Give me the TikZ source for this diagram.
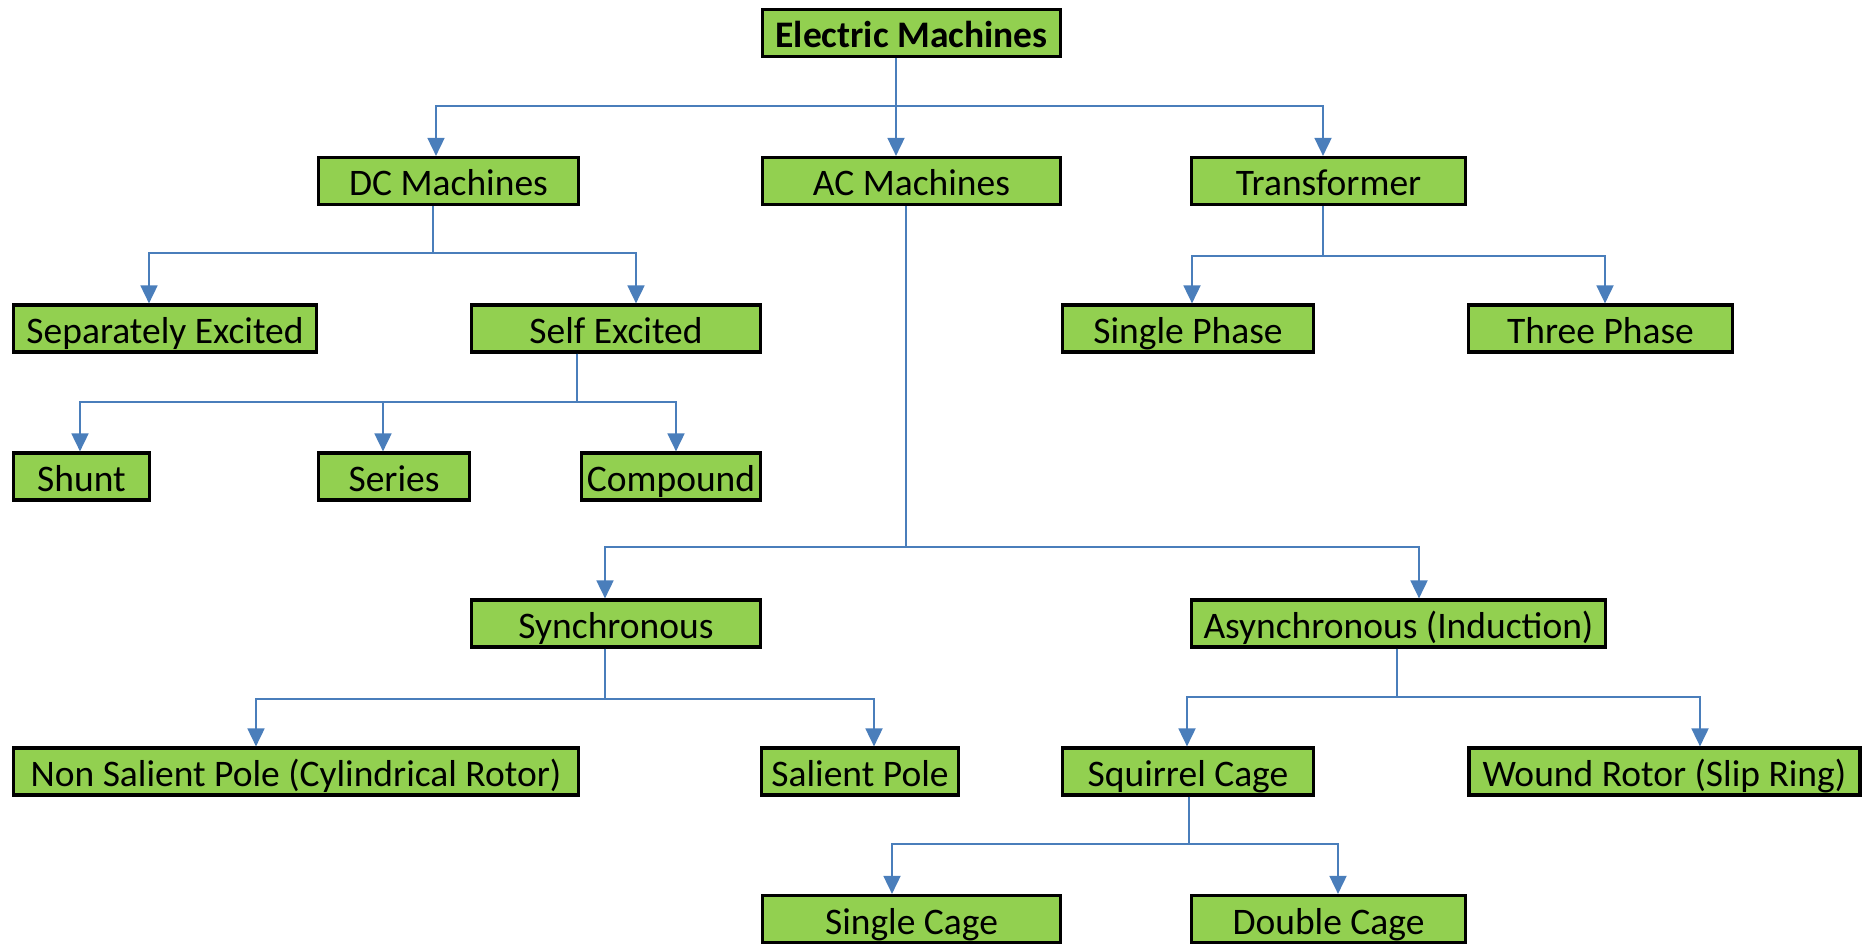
\documentclass[tikz,border=0pt]{standalone}
\usepackage{fontspec}
\setmainfont{Carlito}
\usetikzlibrary{arrows.meta}

\definecolor{leaf}{RGB}{146,208,80}
\definecolor{wire}{RGB}{74,126,187}

\begin{document}
\begin{tikzpicture}[x=1pt, y=1pt]
    \tikzstyle{mbox}=[draw, line width=3.2pt, fill=leaf, inner sep=0pt, minimum height=47pt,
        text height=31pt, text depth=1pt, font=\fontsize{37.5}{40}\selectfont]
    \tikzstyle{marrs}=[line width=1.8pt, draw=wire, -{Triangle[length=18pt, width=17pt, fill=wire]}]

    \useasboundingbox (0, 0) rectangle (1870, -944);

    % top level
    \node[mbox, minimum width=298pt, font=\fontsize{37.5}{40}\selectfont\bfseries] (em) at (911.5, -33) {Electric Machines};

    \node[mbox, minimum width=260pt] (dc) at (448.5, -181) {DC Machines};
    \node[mbox, minimum width=298pt] (ac) at (911.5, -181) {AC Machines};
    \node[mbox, minimum width=274pt] (tr) at (1328.5, -181) {Transformer};

    % dc side
    \node[mbox, minimum width=303pt] (sep) at (165, -328.5) {Separately Excited};
    \node[mbox, minimum width=289pt] (self) at (616, -328.5) {Self Excited};
    \node[mbox, minimum width=136pt] (shunt) at (81.5, -476.5) {Shunt};
    \node[mbox, minimum width=151pt] (series) at (394, -476.5) {Series};
    \node[mbox, minimum width=179pt] (comp) at (671, -476.5) {Compound};

    % transformer side
    \node[mbox, minimum width=251pt] (sph) at (1188, -328.5) {Single Phase};
    \node[mbox, minimum width=264pt] (tph) at (1600.5, -328.5) {Three Phase};

    % ac side
    \node[mbox, minimum width=289pt] (syn) at (616, -623.5) {Synchronous};
    \node[mbox, minimum width=414pt] (asyn) at (1398.5, -623.5) {Asynchronous (Induction)};
    \node[mbox, minimum width=565pt] (nsp) at (296, -771.5) {Non Salient Pole (Cylindrical Rotor)};
    \node[mbox, minimum width=197pt] (sp) at (860, -771.5) {Salient Pole};
    \node[mbox, minimum width=251pt] (sq) at (1188, -771.5) {Squirrel Cage};
    \node[mbox, minimum width=391pt] (wr) at (1664.5, -771.5) {Wound Rotor (Slip Ring)};
    \node[mbox, minimum width=298pt] (sc) at (911.5, -919) {Single Cage};
    \node[mbox, minimum width=274pt] (dcage) at (1328.5, -919) {Double Cage};

    % parent / child / drop / stem shift / tip shift
    \foreach \p/\c/\d/\ps/\cs in {em/dc/48/-15.5/-12.5, em/ac/48/-15.5/-15.5, em/tr/48/-15.5/-5.5,
            dc/sep/47/-15.5/-16, dc/self/47/-15.5/20,
            self/shunt/48/-39/-1.5, self/series/48/-39/-11, self/comp/48/-39/5,
            tr/sph/50/-5.5/4, tr/tph/50/-5.5/4.5,
            ac/syn/341/-5.5/-11, ac/asyn/341/-5.5/20.5,
            syn/nsp/50/-11/-40, syn/sp/50/-11/14,
            asyn/sq/48/-1.5/-1, asyn/wr/48/-1.5/35.5,
            sq/sc/47/1/-19.5, sq/dcage/47/1/9.5} {
        \draw[marrs] ([xshift=\ps]\p.south) -- ++(0, -\d) -| ([xshift=\cs]\c.north);
    }

\end{tikzpicture}
\end{document}
